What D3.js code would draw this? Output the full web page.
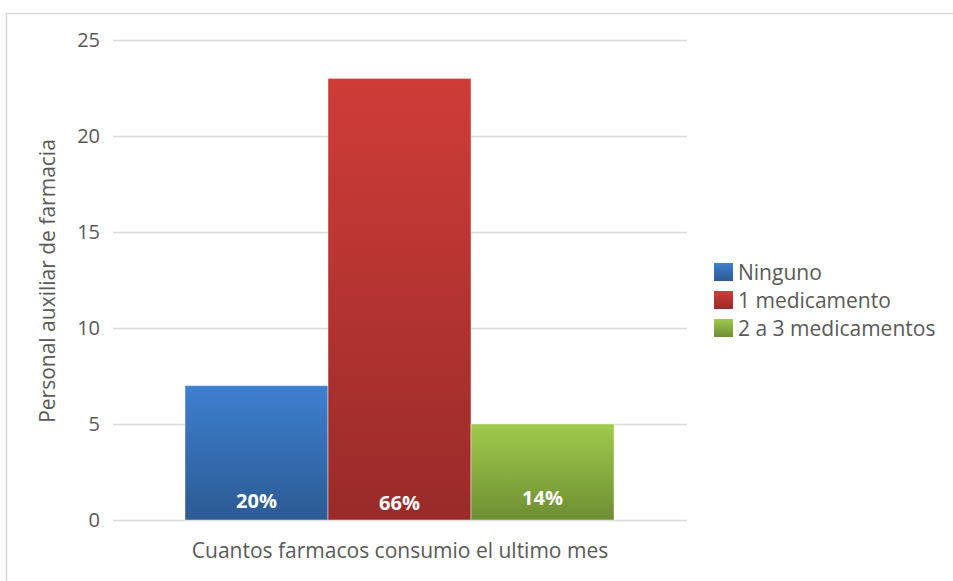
<!DOCTYPE html>
<html>
<head>
<meta charset="utf-8">
<script src="https://cdn.jsdelivr.net/npm/d3@7"></script>
<style>
  html, body { margin: 0; padding: 0; background: #fff; }
  svg { display: block; font-family: "Open Sans", "Noto Sans", sans-serif; }
</style>
</head>
<body>
<svg id="chart" width="953" height="581"></svg>
<script>
// Number of pharmacy assistants by medicines taken last month
const categories = ["Ninguno", "1 medicamento", "2 a 3 medicamentos"];
const values = [7, 23, 5];
const percentLabels = ["20%", "66%", "14%"];
const yTicks = [0, 5, 10, 15, 20, 25];
const colorsTop = ["#3e80d0", "#cf3c38", "#9fca4c"];
const colorsBottom = ["#2c5a93", "#992b29", "#6e8e33"];
const yTitle = "Personal auxiliar de farmacia";
const xTitle = "Cuantos farmacos consumio el ultimo mes";

const svg = d3.select("#chart");

// outer frame
svg.append("path")
  .attr("d", "M6.5,581 V13.5 H953")
  .attr("fill", "none")
  .attr("stroke", "#dadada")
  .attr("stroke-width", 1.5);

const plot = { left: 113, right: 687, top: 40, bottom: 520 };

const y = d3.scaleLinear().domain([0, 25]).range([plot.bottom, plot.top]);
const x = d3.scaleBand().domain(categories).range([185, 614]).padding(0);

// gradients
const defs = svg.append("defs");
categories.forEach((c, i) => {
  const g = defs.append("linearGradient")
    .attr("id", "grad" + i)
    .attr("x1", 0).attr("y1", 0).attr("x2", 0).attr("y2", 1);
  g.append("stop").attr("offset", "0%").attr("stop-color", colorsTop[i]);
  g.append("stop").attr("offset", "100%").attr("stop-color", colorsBottom[i]);
});

// gridlines
svg.append("g")
  .selectAll("line")
  .data(yTicks)
  .join("line")
  .attr("x1", plot.left).attr("x2", plot.right)
  .attr("y1", d => y(d) + 0.5).attr("y2", d => y(d) + 0.5)
  .attr("stroke", "#d9d9d9")
  .attr("stroke-width", 1.5);

// y axis labels
const yAxis = d3.axisLeft(y).tickValues(yTicks).tickSize(0).tickPadding(0);
const yg = svg.append("g").attr("transform", `translate(100,0)`).call(yAxis);
yg.select(".domain").remove();
yg.selectAll("text")
  .attr("fill", "#595959")
  .attr("font-size", 20)
  .attr("font-family", "'Open Sans', sans-serif");

// bars
svg.append("g")
  .selectAll("rect")
  .data(values)
  .join("rect")
  .attr("x", (d, i) => x(categories[i]))
  .attr("y", d => y(d))
  .attr("width", x.bandwidth())
  .attr("height", d => y(0) - y(d))
  .attr("fill", (d, i) => `url(#grad${i})`)
  .attr("stroke", "rgba(255,255,255,0.45)")
  .attr("stroke-width", 1);

// percent labels
const labelOffsets = [-12, -10, -15];
svg.append("g")
  .selectAll("text")
  .data(percentLabels)
  .join("text")
  .attr("x", (d, i) => x(categories[i]) + x.bandwidth() / 2)
  .attr("y", (d, i) => y(0) + labelOffsets[i])
  .attr("text-anchor", "middle")
  .attr("fill", "#fff")
  .attr("font-size", 20)
  .attr("font-weight", "bold")
  .text(d => d);

// axis titles
svg.append("text")
  .attr("transform", "translate(55,281) rotate(-90)")
  .attr("text-anchor", "middle")
  .attr("fill", "#595959")
  .attr("font-size", 21)
  .text(yTitle);

svg.append("text")
  .attr("x", 400).attr("y", 558)
  .attr("text-anchor", "middle")
  .attr("fill", "#595959")
  .attr("font-size", 21)
  .text(xTitle);

// legend
const legend = svg.append("g").attr("transform", "translate(714,263)");
const items = legend.selectAll("g")
  .data(categories)
  .join("g")
  .attr("transform", (d, i) => `translate(0,${i * 28})`);
items.append("rect")
  .attr("width", 19).attr("height", 18)
  .attr("fill", (d, i) => `url(#grad${i})`);
items.append("text")
  .attr("x", 24).attr("y", 17)
  .attr("fill", "#595959")
  .attr("font-size", 21)
  .text(d => d);
</script>
</body>
</html>
